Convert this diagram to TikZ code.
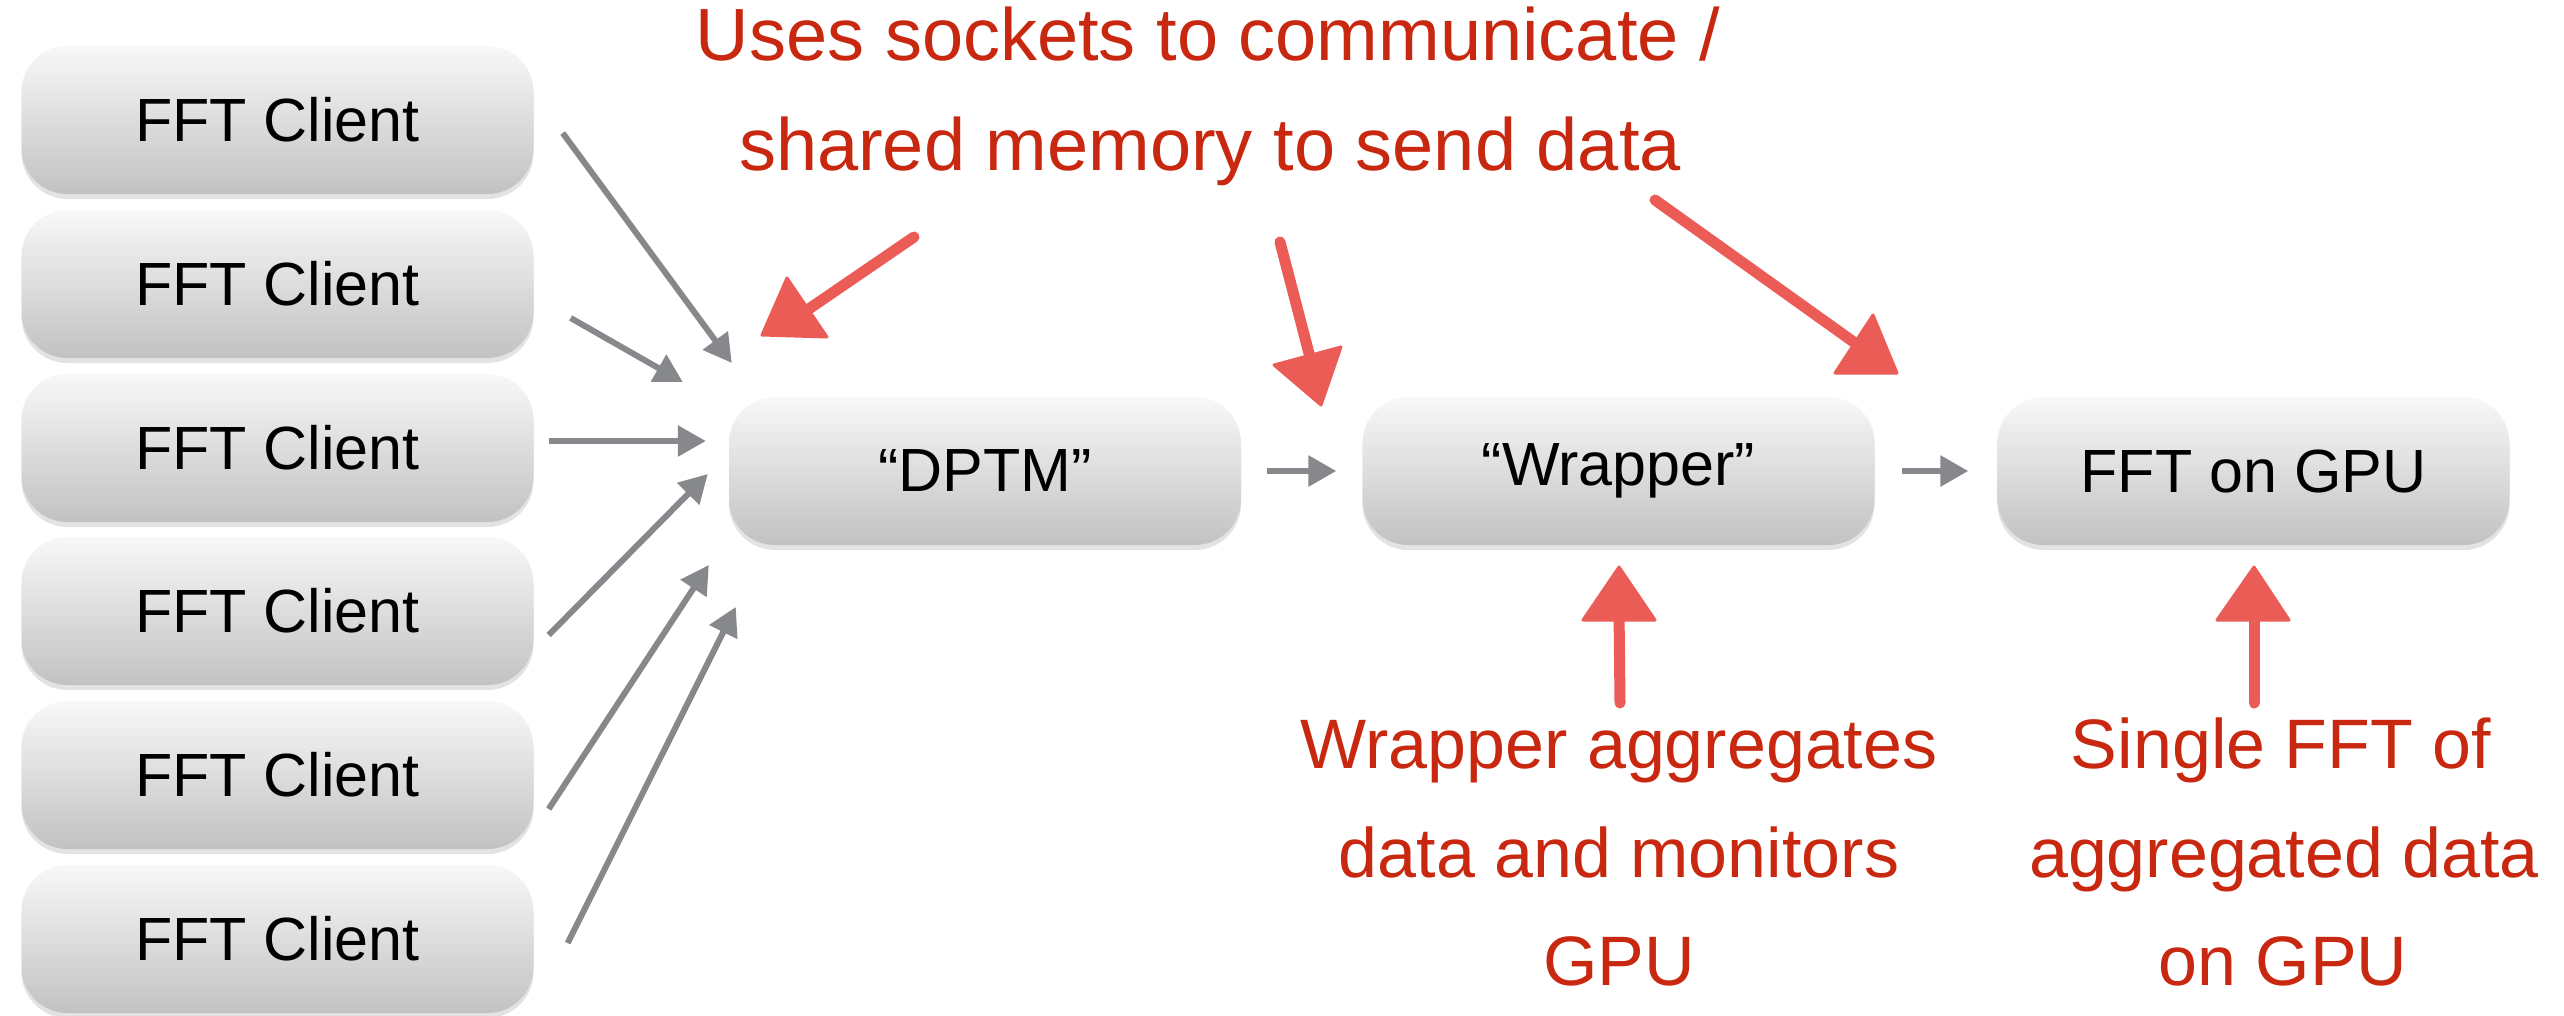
\documentclass[tikz,border=0pt]{standalone}
\usepackage{fontspec}
\setmainfont{Liberation Sans}
\usetikzlibrary{arrows.meta,shadows,calc}
\definecolor{boxtop}{RGB}{248,248,248}
\definecolor{boxbot}{RGB}{194,194,194}
\definecolor{arrgray}{RGB}{134,136,140}
\definecolor{notered}{RGB}{200,40,15}
\definecolor{crayon}{RGB}{236,92,86}
\begin{document}
\begin{tikzpicture}[x=1pt,y=-1pt,
  box/.style={rounded corners=46pt, minimum width=512pt, minimum height=148pt, inner sep=0pt,
    top color=boxtop, bottom color=boxbot, draw=none,
    drop shadow={shadow xshift=0pt, shadow yshift=-5pt, opacity=0.22},
    font=\fontsize{61}{70}\selectfont},
  flow/.style={draw=arrgray, line width=6pt, -{Triangle[length=28pt,width=30pt]}},
  note/.style={text=notered, anchor=base, inner sep=0pt},
  topnote/.style={note, font=\fontsize{74}{80}\selectfont},
  botnote/.style={note, font=\fontsize{70}{80}\selectfont},
  crayonline/.style={draw=crayon, line width=11pt, line cap=round},
  crayonhead/.style={fill=crayon, draw=crayon, line width=3pt, line join=round}]
\fill[white] (0,0) rectangle (2564,1015);
\useasboundingbox (0,0) rectangle (2564,1015);

% boxes
\node[box] (c1) at (277.5,120) {FFT Client};
\node[box] (c2) at (277.5,284) {FFT Client};
\node[box] (c3) at (277.5,448) {FFT Client};
\node[box] (c4) at (277.5,611) {FFT Client};
\node[box] (c5) at (277.5,775) {FFT Client};
\node[box] (c6) at (277.5,939) {FFT Client};
\node[box] (dptm) at (985,471) {“DPTM”};
\node[box] (wrap) at (1618.5,471) {“Wrapper”};
\node[box] (gpu) at (2253.5,471) {FFT on GPU};

% gray connectors
\draw[flow] ($(c1.east)+(29,13)$) -- ($(dptm.west)+(3,-108)$);
\draw[flow] ($(c2.east)+(37,34)$) -- ($(dptm.west)+(-46,-89)$);
\draw[flow] ($(c3.east)+(15,-7)$) -- ($(dptm.west)+(-23,-30)$);
\draw[flow] ($(c4.east)+(15,24)$) -- ($(dptm.west)+(-21,3)$);
\draw[flow] ($(c5.east)+(15,34)$) -- ($(dptm.west)+(-20,94)$);
\draw[flow] ($(c6.east)+(34,4)$) -- ($(dptm.west)+(7,136)$);
\draw[flow, shorten <=26pt, shorten >=26pt] (dptm.east) -- (wrap.west);
\draw[flow, shorten <=27pt, shorten >=29pt] (wrap.east) -- (gpu.west);

% notes
\node[topnote] (t1) at (1208,60) {Uses sockets to communicate /};
\node[topnote] (t2) at (1210,170) {shared memory to send data};
\node[botnote] (w1) at (1619,768) {Wrapper aggregates};
\node[botnote] (w2) at (1619,877) {data and monitors};
\node[botnote] (w3) at (1619,985) {GPU};
\node[botnote] (s1) at (2281,768) {Single FFT of};
\node[botnote] (s2) at (2284,877) {aggregated data};
\node[botnote] (s3) at (2283,985) {on GPU};

% red crayon arrows
\coordinate (r1a) at (914,237); \coordinate (r1b) at (800,315);
\draw[crayonline] (r1a) -- (r1b);
\filldraw[crayonhead] (787,278) -- (827,337) -- (762,335) -- cycle;

\coordinate (r2a) at (1280,242); \coordinate (r2b) at (1312,365);
\draw[crayonline] (r2a) -- (r2b);
\filldraw[crayonhead] (1274,365) -- (1341,347) -- (1321,405) -- cycle;

\coordinate (r3a) at (1655,200); \coordinate (r3b) at (1862,348);
\draw[crayonline] (r3a) -- (r3b);
\filldraw[crayonhead] (1873,315) -- (1835,373) -- (1897,373) -- cycle;

\coordinate (r4a) at (1620,703); \coordinate (r4b) at (1619,610);
\draw[crayonline] (r4a) -- (r4b);
\filldraw[crayonhead] (1583,620) -- (1655,620) -- (1619,567) -- cycle;

\coordinate (r5a) at (2254,703); \coordinate (r5b) at (2254,610);
\draw[crayonline] (r5a) -- (r5b);
\filldraw[crayonhead] (2217,620) -- (2289,620) -- (2254,567) -- cycle;
\end{tikzpicture}
\end{document}
